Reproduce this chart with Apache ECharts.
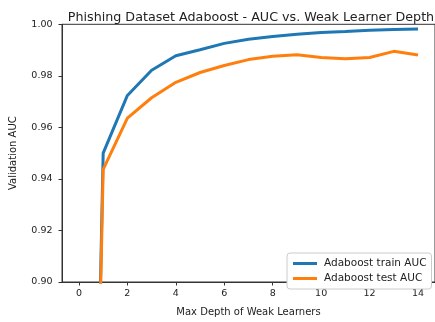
<!DOCTYPE html>
<html><head><meta charset="utf-8">
<script src="https://cdn.jsdelivr.net/npm/echarts@6/dist/echarts.min.js"></script>
<style>html,body{margin:0;padding:0;background:#fff}#c{width:435px;height:322px}</style>
</head><body><div id="c"></div>
<script>
const depths = [0,1,2,3,4,5,6,7,8,9,10,11,12,13,14];
const trainAUC = [0.5,0.950,0.9724,0.9822,0.9878,0.9901,0.9926,0.9942,0.9953,0.9961,0.9968,0.9972,0.9977,0.9980,0.9982];
const testAUC  = [0.5,0.9437,0.9636,0.9715,0.9775,0.9813,0.9840,0.9863,0.9876,0.9882,0.9871,0.9866,0.9871,0.9895,0.9881];
const xTicks = [0,2,4,6,8,10,12,14];
const seriesNames = ['Adaboost train AUC','Adaboost test AUC'];
const titleText = 'Phishing Dataset Adaboost - AUC vs. Weak Learner Depth';

const font = 'DejaVu Sans';
const chart = echarts.init(document.getElementById('c'), null, {renderer:'canvas'});
const pairs = a => depths.map((d,i)=>[d,a[i]]);
chart.setOption({
  animation:false,
  textStyle:{fontFamily:font},
  title:{text:titleText,left:246,top:6,textAlign:'center',
    textStyle:{fontFamily:font,fontSize:12.7,fontWeight:'normal',color:'#222'}},
  grid:{left:57.7,right:-2,top:24.3,bottom:32,show:true,borderColor:'#333',borderWidth:1},
  legend:{orient:'vertical',left:287,top:253,data:seriesNames,icon:'rect',itemWidth:24,itemHeight:3,
    itemGap:4,padding:[5,5,5,6],borderColor:'#ccc',borderWidth:1,borderRadius:3,backgroundColor:'#fff',
    textStyle:{fontFamily:font,fontSize:10.5,color:'#222',padding:[0,0,0,2]}},
  xAxis:{type:'value',min:-0.7,max:14.7,name:'Max Depth of Weak Learners',nameLocation:'middle',nameGap:25,
    nameTextStyle:{fontFamily:font,fontSize:10,color:'#222'},
    axisLine:{onZero:false,lineStyle:{color:'#333'}},splitLine:{show:false},
    axisTick:{customValues:xTicks,length:3.5,lineStyle:{color:'#333'}},
    axisLabel:{customValues:xTicks,fontFamily:font,fontSize:9.5,color:'#222',margin:7}},
  yAxis:{type:'value',min:0.9,max:1.0,interval:0.02,name:'Validation AUC',nameLocation:'middle',nameGap:44,
    nameTextStyle:{fontFamily:font,fontSize:10,color:'#222'},
    axisLine:{show:true,onZero:false,lineStyle:{color:'#333'}},splitLine:{show:false},
    axisTick:{show:true,length:3.5,lineStyle:{color:'#333'}},
    axisLabel:{fontFamily:font,fontSize:9.5,color:'#222',margin:9.5,formatter:v=>v.toFixed(2)}},
  series:[
    {name:seriesNames[0],type:'line',data:pairs(trainAUC),showSymbol:false,symbol:'none',clip:true,
     lineStyle:{color:'#1f77b4',width:3},itemStyle:{color:'#1f77b4'}},
    {name:seriesNames[1],type:'line',data:pairs(testAUC),showSymbol:false,symbol:'none',clip:true,
     lineStyle:{color:'#ff7f0e',width:3},itemStyle:{color:'#ff7f0e'}}
  ]
});
</script></body></html>
